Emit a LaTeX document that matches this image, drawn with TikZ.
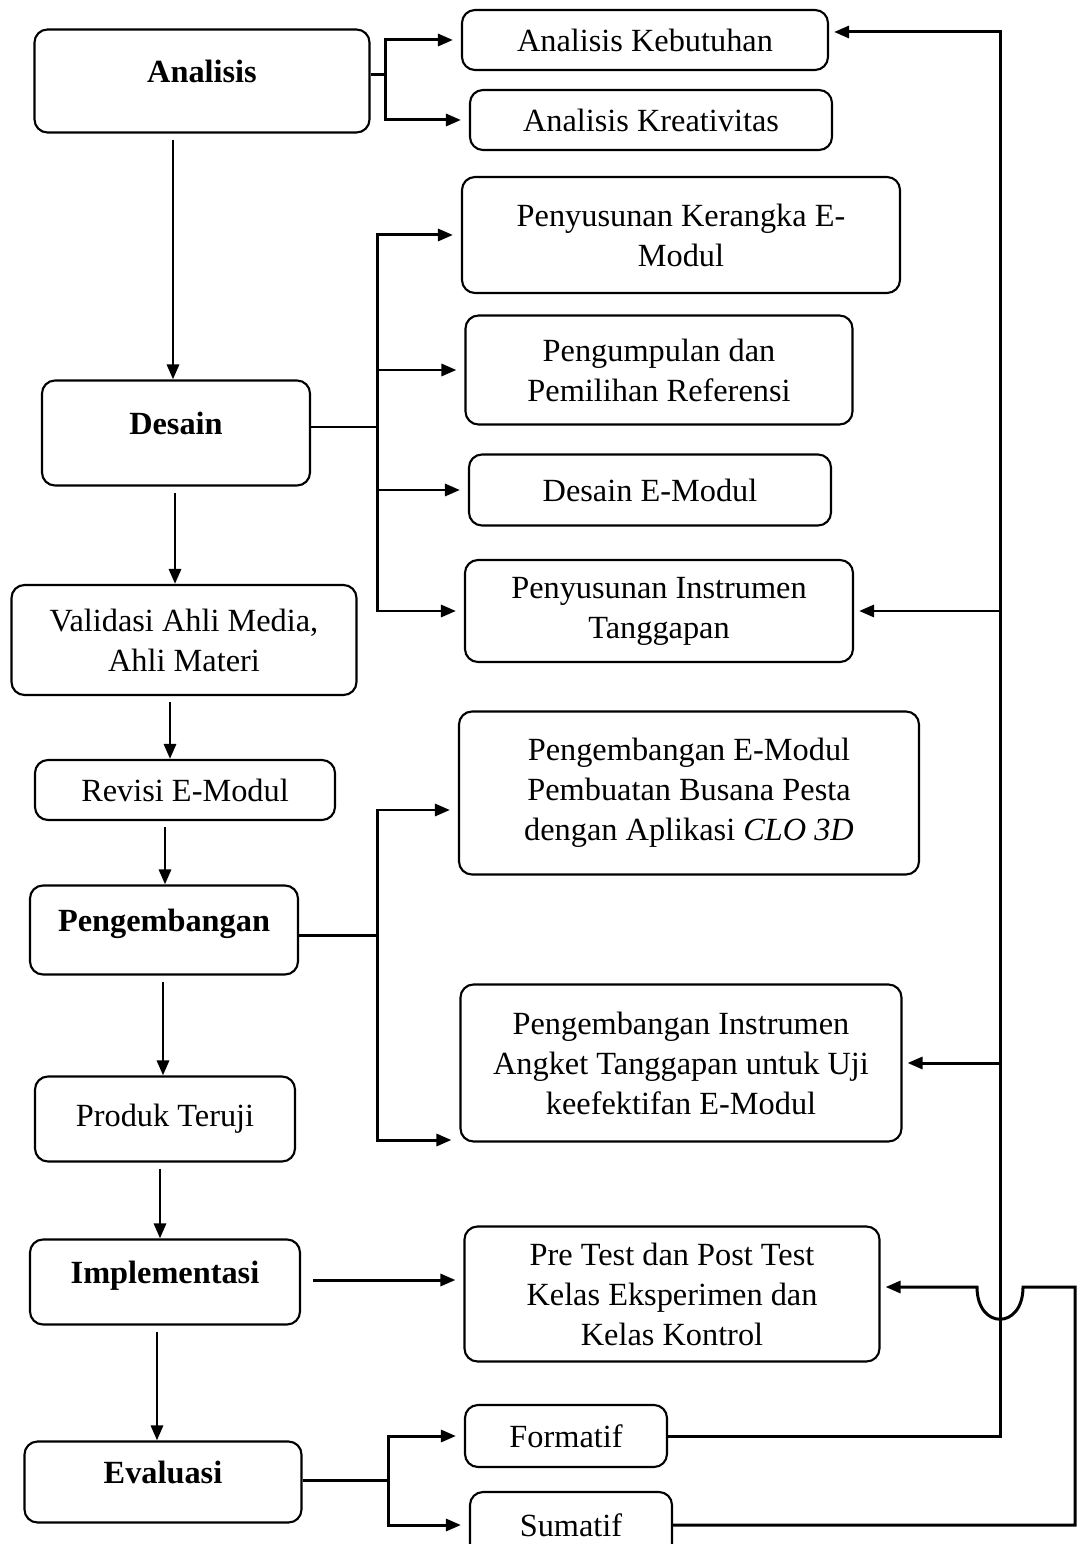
\documentclass[tikz,border=0pt]{standalone}
\usepackage{fontspec}
\setmainfont{Liberation Serif}
\usetikzlibrary{positioning, arrows.meta, calc}

\begin{document}
\begin{tikzpicture}[
  x=0.1mm, y=-0.1mm,
  font=\fontsize{9.2}{11.4}\selectfont,
  >={Triangle[length=1.5mm, width=1.2mm]},
  %% Node styles
  box/.style={
    draw, rounded corners=1.3mm, line width=0.6pt,
    align=center, inner sep=2pt
  },
  phase/.style={box, font=\fontsize{9.2}{11.4}\selectfont\bfseries,
    text height=6.5pt, text depth=5.5pt},
  sz/.style 2 args={minimum width=#1mm, minimum height=#2mm},
  %% Connector styles
  conn/.style={line width=0.85pt},
  arr/.style={conn, ->, shorten >=0.8mm},
  vert/.style={conn, ->, shorten <=0.6mm},
  back/.style={conn, ->, shorten >=0.5mm},
]
\useasboundingbox (0,0) rectangle (1080,1544);

%% ── PHASES (left column) ─────────────────────────────────────────────────
\node[phase, sz={33.5}{10.3}] (anl) at (202,81)   {Analisis};
\node[phase, sz={26.8}{10.5}] (des) at (176,433)  {Desain};
\node[box,   sz={34.5}{11}]   (val) at (184,640)  {Validasi Ahli Media,\\Ahli Materi};
\node[box,   sz={30}{6}]      (rev) at (185,790)  {Revisi E-Modul};
\node[phase, sz={26.8}{8.9}]  (pgb) at (164,930)  {Pengembangan};
\node[box,   sz={26}{8.5}]    (prd) at (165,1119) {Produk Teruji};
\node[phase, sz={27}{8.5}]    (imp) at (165,1282) {Implementasi};
\node[phase, sz={27.7}{8.1}]  (eva) at (163,1482) {Evaluasi};

%% Phase → phase edges
\foreach \a/\b/\x in {anl/des/173, des/val/175, val/rev/170, rev/pgb/165,
                      pgb/prd/163, prd/imp/160, imp/eva/157}
  \draw[vert] (\a.south -| \x,0) -- (\b.north -| \x,0);

%% ── ANALISIS ─────────────────────────────────────────────────────────────
\node[box, sz={36.6}{6}] (keb) at (645,40)  {Analisis Kebutuhan};
\node[box, sz={36.2}{6}] (kre) at (651,120) {Analisis Kreativitas};

\coordinate (ja) at (385,75);
\draw[conn] (anl.east |- ja) -- (ja);
\foreach \t in {keb, kre}
  \draw[arr] (ja) |- (\t.west);

%% ── DESAIN ───────────────────────────────────────────────────────────────
\node[box, sz={43.8}{11.6}] (ker) at (681,235) {Penyusunan Kerangka E-\\Modul};
\node[box, sz={38.7}{10.9}] (ref) at (659,370) {Pengumpulan dan\\Pemilihan Referensi};
\node[box, sz={36.2}{7.1}]  (dem) at (650,490) {Desain E-Modul};
\node[box, sz={38.8}{10.2}] (ins) at (659,611) {Penyusunan Instrumen\\Tanggapan};

\coordinate (jd) at (377,427);
\draw[conn] (des.east |- jd) -- (jd);
\foreach \t in {ker, ref, dem, ins}
  \draw[arr] (jd) |- (\t.west);

%% ── PENGEMBANGAN ─────────────────────────────────────────────────────────
\node[box, sz={46}{16.3}] (kem) at (689,793)
  {Pengembangan E-Modul\\Pembuatan Busana Pesta\\dengan Aplikasi \textit{CLO 3D}};
\node[box, sz={44.1}{15.7}] (ang) at (681,1063)
  {Pengembangan Instrumen\\Angket Tanggapan untuk Uji\\keefektifan E-Modul};

\coordinate (jp) at (377,935);
\draw[conn] (pgb.east |- jp) -- (jp);
\draw[arr] (jp) |- ([yshift=-1.7mm]kem.west);
\draw[arr] (jp) |- ([yshift=-7.7mm]ang.west);

%% ── IMPLEMENTASI ─────────────────────────────────────────────────────────
\node[box, sz={41.5}{13.5}] (pre) at (672,1294)
  {Pre Test dan Post Test\\Kelas Eksperimen dan\\Kelas Kontrol};

\draw[arr, shorten <=1.2mm] (imp.east |- 0,1280) -- (pre.west |- 0,1280);

%% ── EVALUASI ─────────────────────────────────────────────────────────────
\node[box, sz={20.2}{6.2}] (frm) at (566,1436) {Formatif};
\node[box, sz={20.2}{6.6}] (sum) at (571,1525) {Sumatif};

\coordinate (je) at (388,1480);
\draw[conn] (eva.east |- je) -- (je);
\foreach \t in {frm, sum}
  \draw[arr] (je) |- (\t.west);

%% ── FEEDBACK LINES ───────────────────────────────────────────────────────
\coordinate (fb) at (1000,32);
\draw[back] (frm.east) -| (fb) -- (fb -| keb.east);
\foreach \t in {ins, ang}
  \draw[back] (\t.east -| fb) -- (\t.east);

\coordinate (sr) at (1075,1287);
\coordinate (h1) at (1023,1287);
\coordinate (h2) at (977,1287);
\draw[back] (sum.east) -| (sr) -- (h1)
  .. controls +(0,43) and +(0,43) .. (h2) -- (h2 -| pre.east);

\end{tikzpicture}
\end{document}
